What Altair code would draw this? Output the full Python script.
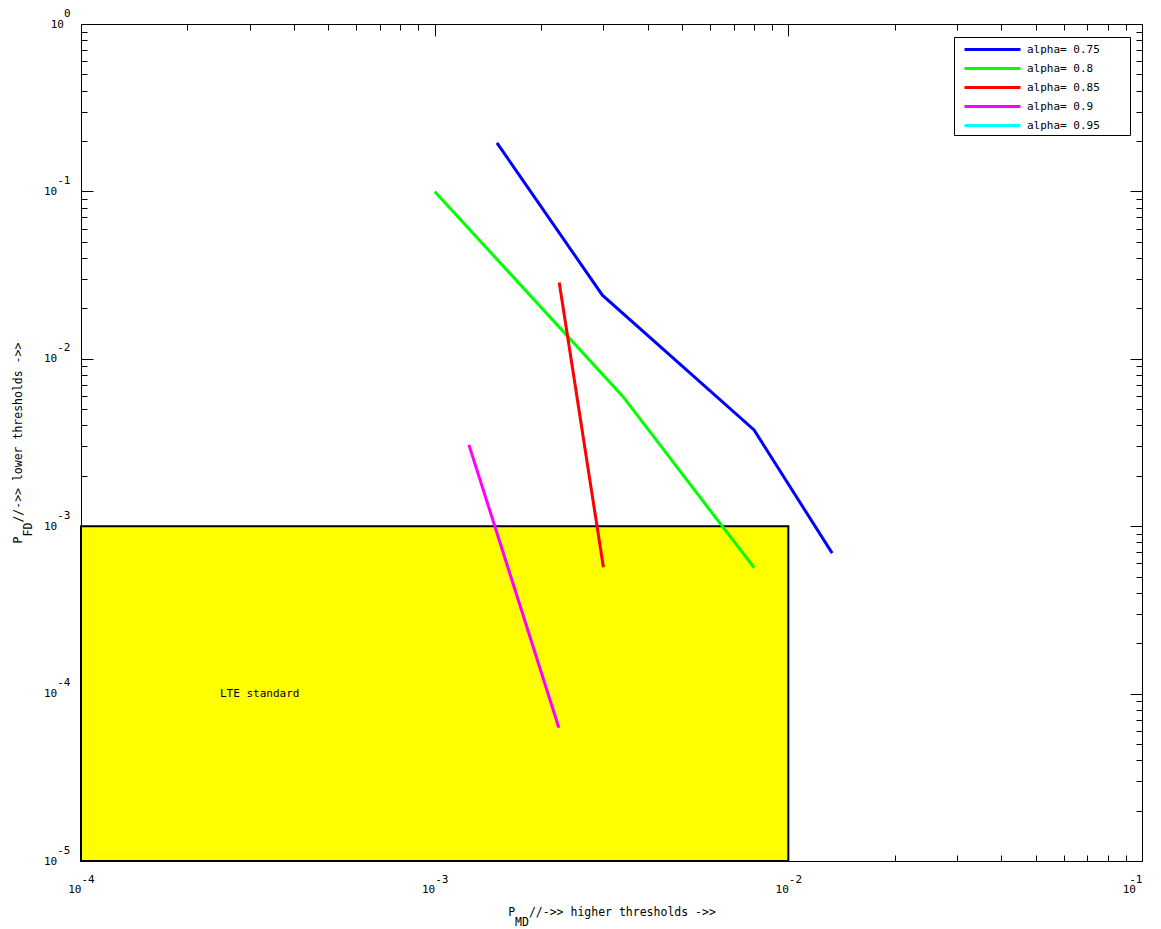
import altair as alt
import pandas as pd

NB = "\u00a0"   # non-breaking space (keeps monospace columns)
ZW = "\u200b"   # zero-width guard so padding is not trimmed

# ---------------- data ----------------
series = ["alpha= 0.75", "alpha= 0.8", "alpha= 0.85", "alpha= 0.9", "alpha= 0.95"]
colors = ["#0000ff", "#00ff00", "#ff0000", "#ff00ff", "#00ffff"]
widths = [3, 3, 4.5, 3, 3]

pmd_075 = [1.50e-3, 2.98e-3, 8.0e-3, 1.33e-2]
pfd_075 = [1.95e-1, 2.40e-2, 3.76e-3, 6.9e-4]
pmd_080 = [1.0e-3, 3.41e-3, 8.0e-3]
pfd_080 = [1.0e-1, 5.94e-3, 5.65e-4]
pmd_085 = [2.25e-3, 3.0e-3]
pfd_085 = [2.86e-2, 5.68e-4]
pmd_090 = [1.25e-3, 2.245e-3]
pfd_090 = [3.06e-3, 6.25e-5]
pmd_095 = []
pfd_095 = []

lte_pmd = [1e-4, 1e-2]
lte_pfd = [1e-5, 1e-3]
lte_label = ["LTE standard"]
lte_label_pmd = [3.2e-4]
lte_label_pfd = [1e-4]

x_domain = [1e-4, 1e-1]
y_domain = [1e-5, 1.0]
x_ticks = [m * 10.0 ** e for e in (-4, -3, -2) for m in range(1, 10)] + [1e-1]
y_ticks = [m * 10.0 ** e for e in (-5, -4, -3, -2, -1) for m in range(1, 10)] + [1.0]

x_title_tail = "//->> higher thresholds ->>"
y_title_tail = "//->> lower thresholds ->>"

# ---------------- tables ----------------
rows = []
for name, xs, ys in zip(series,
                        [pmd_075, pmd_080, pmd_085, pmd_090, pmd_095],
                        [pfd_075, pfd_080, pfd_085, pfd_090, pfd_095]):
    for i, (a, b) in enumerate(zip(xs, ys)):
        rows.append({"series": name, "i": i, "pmd": a, "pfd": b})
lines_df = pd.DataFrame(rows)
rect_df = pd.DataFrame({"x0": [lte_pmd[0]], "x1": [lte_pmd[1]],
                        "y0": [lte_pfd[0]], "y1": [lte_pfd[1]]})
text_df = pd.DataFrame({"t": lte_label, "tx": lte_label_pmd, "ty": lte_label_pfd})

xscale = alt.Scale(type="log", domain=x_domain, nice=False)
yscale = alt.Scale(type="log", domain=y_domain, nice=False)

is_major = "abs(datum.value / pow(10, round(log(datum.value) / LN10)) - 1) < 1e-6"
expo = "round(log(datum.value) / LN10)"
x_label_expr = (f"{is_major} ? (datum.value > 0.09 ? ['' + {expo}, '10{NB}{ZW}'] : "
                f"['{ZW}{NB}{NB}' + {expo}, '10{NB}{NB}{ZW}']) : ''")
y_label_expr = (f"{is_major} ? ['' + {expo}, {expo} == 0 ? '10{NB}{ZW}' : '10{NB}{NB}{ZW}'] : ''")
tick_len = {"expr": f"({is_major}) ? -12 : -6"}

MONO = "DejaVu Sans Mono"

x_axis = alt.Axis(
    orient="bottom", values=x_ticks, labelExpr=x_label_expr,
    tickSize=tick_len, labelPadding=24, labelBaseline="top",
    labelAlign={"expr": "datum.value > 0.09 ? 'right' : 'center'"},
    labelLineHeight=10, labelFlush=False, labelOverlap=False,
    labelBound=False,
    title=["P" + NB * 2 + x_title_tail, ZW + NB + "MD" + NB * len(x_title_tail) + ZW],
    titlePadding=12, titleLineHeight=10,
)
y_axis = alt.Axis(
    orient="left", values=y_ticks, labelExpr=y_label_expr,
    tickSize=tick_len, labelPadding=23, labelBaseline="middle",
    labelAlign="right", labelLineHeight=11, labelOffset=-11, labelFlush=False,
    labelOverlap=False, labelBound=False,
    title=["P" + NB * 2 + y_title_tail, ZW + NB + "FD" + NB * len(y_title_tail) + ZW],
    titlePadding=10, titleLineHeight=10,
)
x_axis_top = alt.Axis(orient="top", values=x_ticks, labels=False,
                      tickSize=tick_len, title=None)
y_axis_right = alt.Axis(orient="right", values=y_ticks, labels=False,
                        tickSize=tick_len, title=None)

rect = alt.Chart(rect_df).mark_rect(color="#ffff00", stroke="black", strokeWidth=2).encode(
    x=alt.X("x0:Q", scale=xscale, axis=x_axis),
    x2="x1:Q",
    y=alt.Y("y0:Q", scale=yscale, axis=y_axis),
    y2="y1:Q",
)

lines = alt.Chart(lines_df).mark_line(clip=True).encode(
    x=alt.X("pmd:Q", scale=xscale, axis=x_axis),
    y=alt.Y("pfd:Q", scale=yscale, axis=y_axis),
    order="i:Q",
    color=alt.Color(
        "series:N",
        scale=alt.Scale(domain=series, range=colors),
        legend=alt.Legend(
            title=None, orient="none", legendX=873, legendY=13, padding=3,
            strokeColor="black", fillColor="white", cornerRadius=0,
            symbolType="M-3.5,0H3.5", symbolSize=256, symbolStrokeWidth=3,
            symbolOffset=26, labelOffset=25, rowPadding=3,
            labelFont=MONO, labelFontSize=11, labelColor="black",
            labelExpr=f"datum.label + '{NB}{NB}{NB}{NB}{ZW}'",
        ),
    ),
    strokeWidth=alt.StrokeWidth("series:N", scale=alt.Scale(domain=series, range=widths), legend=None),
)

label = alt.Chart(text_df).mark_text(font=MONO, fontSize=11, color="black",
                                     align="center", baseline="middle").encode(
    x=alt.X("tx:Q", scale=xscale, axis=x_axis),
    y=alt.Y("ty:Q", scale=yscale, axis=y_axis),
    text="t:N",
)

main = alt.layer(rect, lines, label)

ghost = alt.Chart(rect_df).mark_point(opacity=0).encode(
    x=alt.X("x1:Q", scale=xscale, axis=x_axis_top),
    y=alt.Y("y1:Q", scale=yscale, axis=y_axis_right),
)

chart = alt.layer(main, ghost).resolve_axis(x="independent", y="independent").properties(
    width=1061, height=837,
    autosize=alt.AutoSizeParams(type="none"),
    padding={"left": 73, "top": 16, "right": 5, "bottom": 66},
).configure_view(stroke="black", strokeWidth=1).configure_axis(
    domain=False, grid=False, tickColor="black", tickWidth=1,
    labelFont=MONO, labelFontSize=11, labelColor="black",
    titleFont=MONO, titleFontSize=11.5, titleFontWeight="normal", titleColor="black",
)

chart.save("out.html", embed_options={"renderer": "svg", "actions": False})
